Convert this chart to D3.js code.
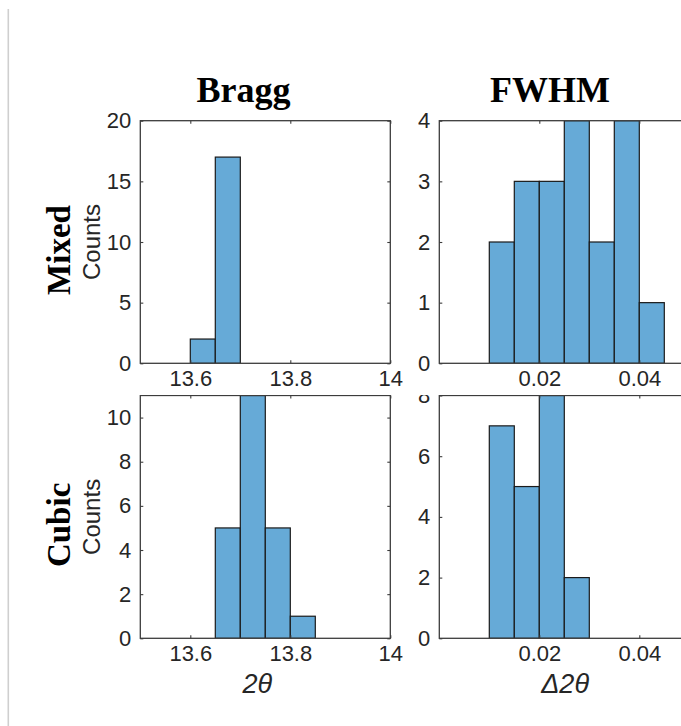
<!DOCTYPE html>
<html>
<head>
<meta charset="utf-8">
<script src="https://cdn.jsdelivr.net/npm/d3@7"></script>
<style>
  html, body { margin: 0; padding: 0; background: #ffffff; }
  svg { display: block; }
</style>
</head>
<body>
<svg id="chart" width="681" height="726"></svg>
<script>
// Histogram data: bin edges and counts for each sample / peak property
const rowNames = ["Mixed", "Cubic"];
const colTitles = ["Bragg", "FWHM"];

const mixedBraggEdges = [13.60, 13.65, 13.70];
const mixedBraggCounts = [2, 17];
const mixedFwhmEdges = [0.010, 0.015, 0.020, 0.025, 0.030, 0.035, 0.040, 0.045];
const mixedFwhmCounts = [2, 3, 3, 4, 2, 4, 1];

const cubicBraggEdges = [13.65, 13.70, 13.75, 13.80, 13.85];
const cubicBraggCounts = [5, 11, 5, 1];
const cubicFwhmEdges = [0.010, 0.015, 0.020, 0.025, 0.030];
const cubicFwhmCounts = [7, 5, 8, 2];

// Axis limits and ticks
const braggDomain = [13.5, 14.0];
const braggTicks = [13.6, 13.8, 14.0];
const braggTickLabels = ["13.6", "13.8", "14"];
const fwhmDomain = [0, 0.05];
const fwhmTicks = [0.02, 0.04];
const fwhmTickLabels = ["0.02", "0.04"];

const mixedBraggY = [0, 20], mixedBraggYTicks = [0, 5, 10, 15, 20];
const mixedFwhmY = [0, 4],   mixedFwhmYTicks = [0, 1, 2, 3, 4];
const cubicBraggY = [0, 11], cubicBraggYTicks = [0, 2, 4, 6, 8, 10];
const cubicFwhmY = [0, 8],   cubicFwhmYTicks = [0, 2, 4, 6, 8];

const xLabels = ["2\u03b8", "\u03942\u03b8"];

// Layout
const colX = [[140.3, 390.3], [439.3, 689.3]];
const rowY = [[120.7, 363.3], [395.5, 638.3]];
const rowClipTop = [0, 395];

const barFill = "#66aad7";
const barStroke = "#1a1a1a";
const axisColor = "#3c3c3c";
const textColor = "#262626";
const sans = "'Liberation Sans', Arial, Helvetica, sans-serif";
const serif = "'Liberation Serif', 'Times New Roman', serif";

const svg = d3.select("#chart");
svg.append("rect").attr("width", 681).attr("height", 726).attr("fill", "#fff");

// thin page-margin rule on the left
svg.append("line")
  .attr("x1", 8.3).attr("x2", 8.3).attr("y1", 9).attr("y2", 726)
  .attr("stroke", "#cfcfcf").attr("stroke-width", 1.6);

const panels = [
  {r: 0, c: 0, edges: mixedBraggEdges, counts: mixedBraggCounts, xd: braggDomain, xt: braggTicks, xl: braggTickLabels, yd: mixedBraggY, yt: mixedBraggYTicks},
  {r: 0, c: 1, edges: mixedFwhmEdges, counts: mixedFwhmCounts, xd: fwhmDomain, xt: fwhmTicks, xl: fwhmTickLabels, yd: mixedFwhmY, yt: mixedFwhmYTicks},
  {r: 1, c: 0, edges: cubicBraggEdges, counts: cubicBraggCounts, xd: braggDomain, xt: braggTicks, xl: braggTickLabels, yd: cubicBraggY, yt: cubicBraggYTicks},
  {r: 1, c: 1, edges: cubicFwhmEdges, counts: cubicFwhmCounts, xd: fwhmDomain, xt: fwhmTicks, xl: fwhmTickLabels, yd: cubicFwhmY, yt: cubicFwhmYTicks}
];

const defs = svg.append("defs");
rowClipTop.forEach((top, i) => {
  defs.append("clipPath").attr("id", "rowclip" + i)
    .append("rect").attr("x", 0).attr("y", top).attr("width", 681).attr("height", 726 - top);
});

panels.forEach((p, i) => {
  const [x0, x1] = colX[p.c];
  const [y0, y1] = rowY[p.r];
  const x = d3.scaleLinear().domain(p.xd).range([x0, x1]);
  const y = d3.scaleLinear().domain(p.yd).range([y1, y0]);

  const g = svg.append("g").attr("clip-path", `url(#rowclip${p.r})`);

  // plot-area clip for the bars
  defs.append("clipPath").attr("id", "plot" + i)
    .append("rect").attr("x", x0).attr("y", y0).attr("width", x1 - x0).attr("height", y1 - y0);

  const bins = p.counts.map((n, k) => ({lo: p.edges[k], hi: p.edges[k + 1], n}));
  g.append("g").attr("clip-path", `url(#plot${i})`)
    .selectAll("rect").data(bins).join("rect")
    .attr("x", d => x(d.lo))
    .attr("y", d => y(d.n))
    .attr("width", d => x(d.hi) - x(d.lo))
    .attr("height", d => y(0) - y(d.n))
    .attr("fill", barFill)
    .attr("stroke", barStroke)
    .attr("stroke-width", 1.2);

  // axes: inward ticks on all four sides
  const tl = 3;
  const axB = d3.axisBottom(x).tickValues(p.xt).tickSize(-tl).tickFormat((d, k) => p.xl[k]).tickPadding(10);
  const axT = d3.axisTop(x).tickValues(p.xt).tickSize(-tl).tickFormat("");
  const axL = d3.axisLeft(y).tickValues(p.yt).tickSize(-tl).tickFormat(d3.format("d")).tickPadding(9);
  const axR = d3.axisRight(y).tickValues(p.yt).tickSize(-tl).tickFormat("");

  const gb = g.append("g").attr("transform", `translate(0,${y1})`).call(axB);
  const gt = g.append("g").attr("transform", `translate(0,${y0})`).call(axT);
  const gl = g.append("g").attr("transform", `translate(${x0},0)`).call(axL);
  const gr = g.append("g").attr("transform", `translate(${x1},0)`).call(axR);

  [gb, gt, gl, gr].forEach(a => {
    a.select(".domain").remove();
    a.selectAll(".tick line").attr("stroke", axisColor).attr("stroke-width", 1.1);
    a.selectAll("text").attr("fill", textColor).attr("font-family", sans).attr("font-size", 22);
  });
  gb.selectAll("text").attr("dy", "0.71em").attr("y", 7);

  g.append("rect")
    .attr("x", x0).attr("y", y0).attr("width", x1 - x0).attr("height", y1 - y0)
    .attr("fill", "none").attr("stroke", axisColor).attr("stroke-width", 1.3);

  // y-axis label
  if (p.c === 0) {
    const cy = (y0 + y1) / 2;
    g.append("text")
      .attr("transform", `translate(100,${cy}) rotate(-90)`)
      .attr("text-anchor", "middle")
      .attr("font-family", sans).attr("font-size", 24).attr("fill", textColor)
      .text("Counts");
    g.append("text")
      .attr("transform", `translate(70,${cy + 8}) rotate(-90)`)
      .attr("text-anchor", "middle")
      .attr("font-family", serif).attr("font-weight", "bold").attr("font-size", 33).attr("fill", "#000")
      .text(rowNames[p.r]);
  }

  // column title
  if (p.r === 0) {
    svg.append("text")
      .attr("x", p.c === 0 ? 243.5 : 550).attr("y", 101.5)
      .attr("text-anchor", "middle")
      .attr("font-family", serif).attr("font-weight", "bold").attr("font-size", 36).attr("fill", "#000")
      .text(colTitles[p.c]);
  }

  // x-axis label
  if (p.r === 1) {
    svg.append("text")
      .attr("x", (x0 + Math.min(x1, 681)) / 2 + (p.c === 0 ? -8 : 5)).attr("y", 693)
      .attr("text-anchor", "middle")
      .attr("font-family", sans).attr("font-style", "italic").attr("font-size", 27).attr("fill", textColor)
      .text(xLabels[p.c]);
  }
});
</script>
</body>
</html>
